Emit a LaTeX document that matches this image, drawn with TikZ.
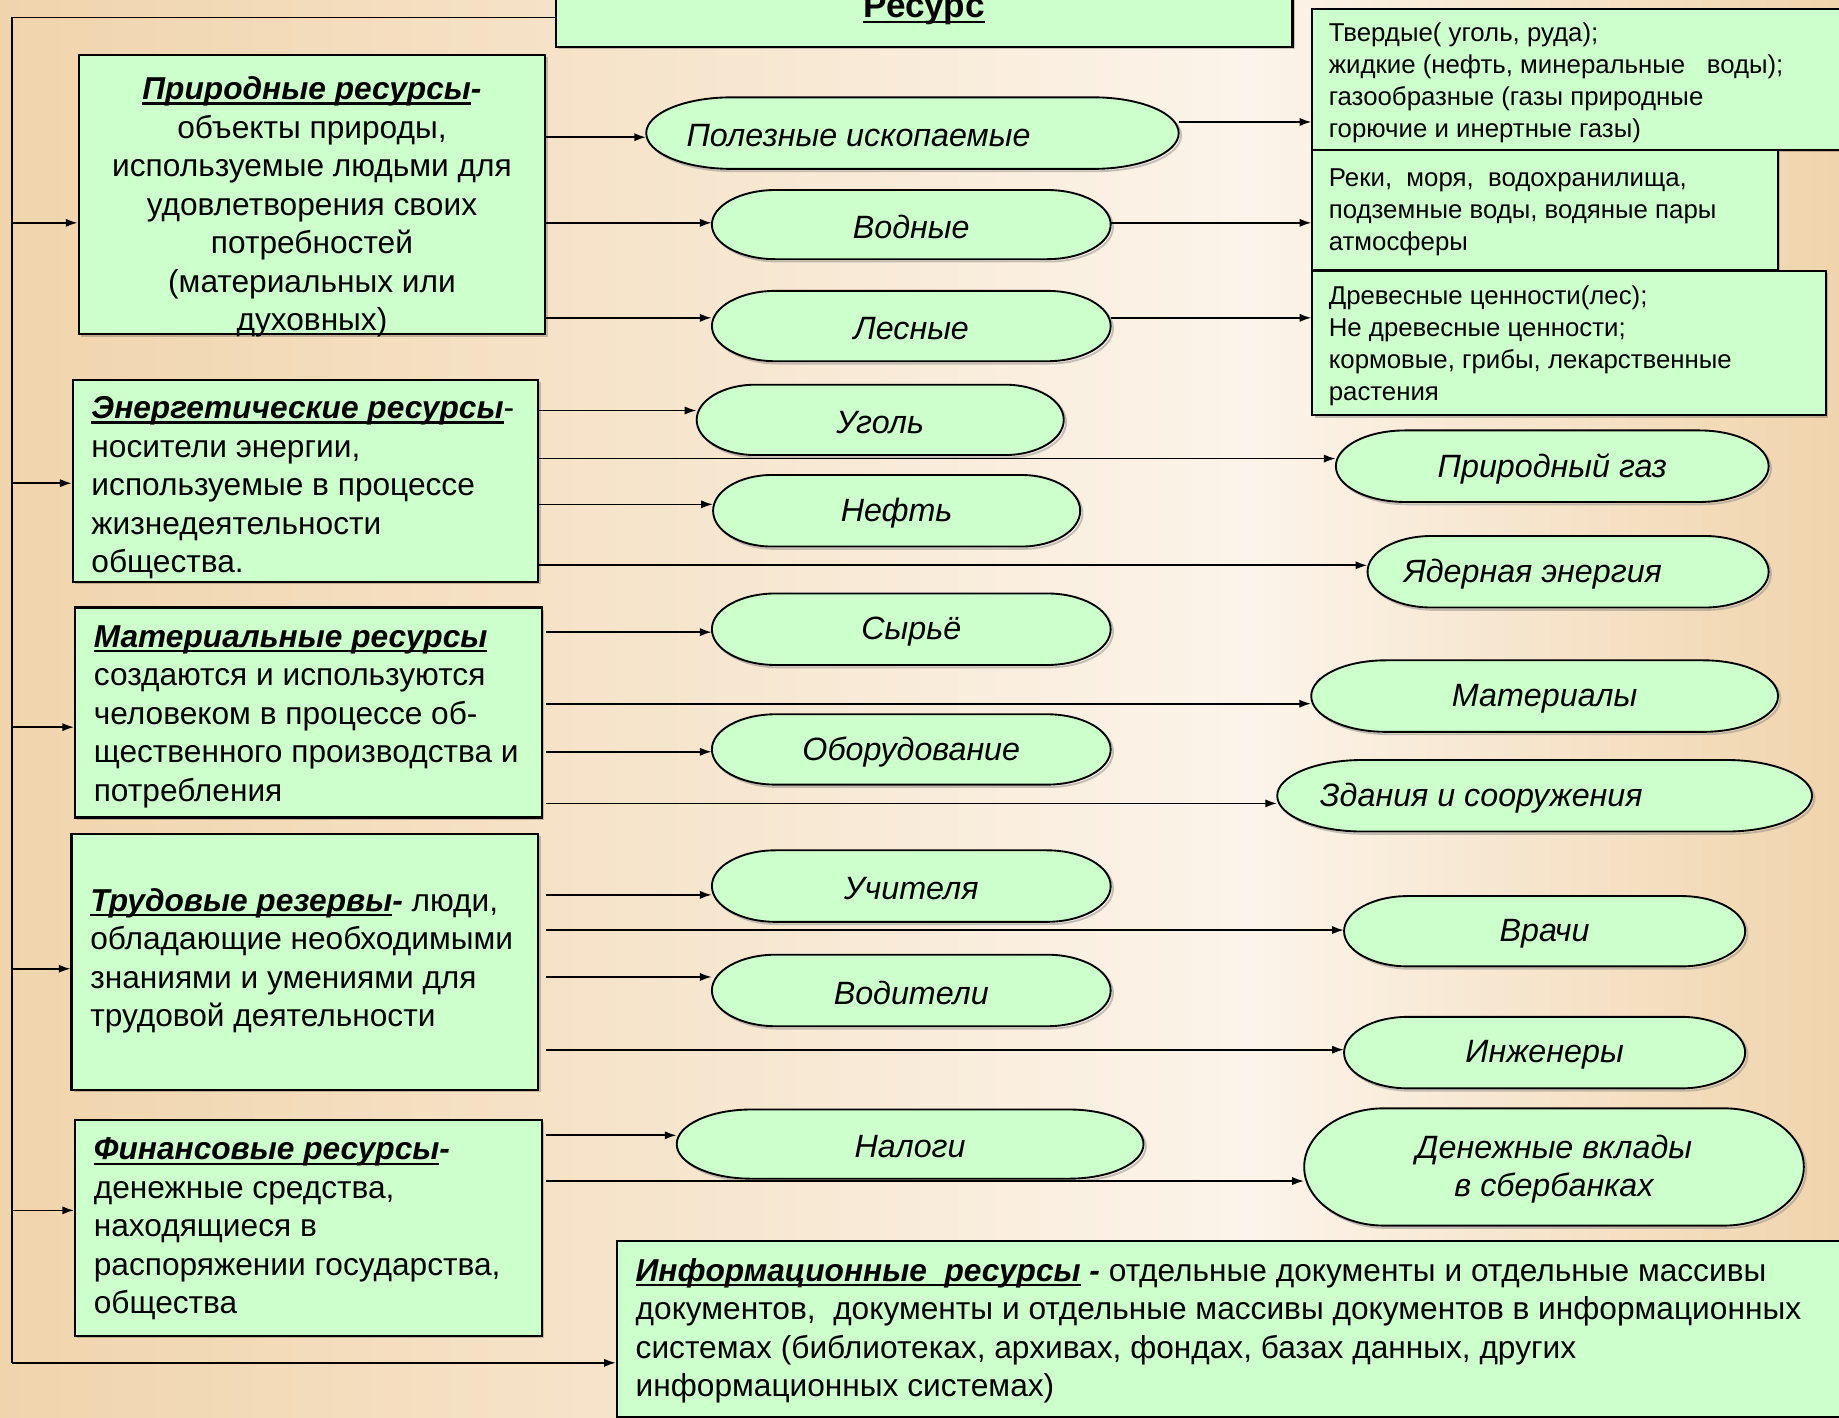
\documentclass[tikz,border=0pt]{standalone}
\usepackage{fontspec}
\setmainfont{Liberation Sans}
\usetikzlibrary{arrows.meta,shadows,calc}
\definecolor{tanc}{RGB}{240,212,172}
\definecolor{lightc}{RGB}{252,244,234}
\definecolor{boxg}{RGB}{204,255,204}
\pgfdeclarehorizontalshading{bgh}{100bp}{color(0bp)=(tanc); color(25bp)=(tanc); color(59bp)=(lightc); color(75bp)=(tanc); color(100bp)=(tanc)}
\newsavebox\ulbox
\newcommand\ulx[1]{\sbox\ulbox{#1}\rlap{\rule[-0.16em]{\wd\ulbox}{0.075em}}\usebox\ulbox}
% text width, box height, alignment, first-baseline offset, text
\newcommand\bt[5]{\parbox[c][#2pt][t]{#1pt}{#3\rule{0pt}{#4pt}#5}}
\tikzset{
  gbox/.style={draw=black, fill=boxg, line width=1.8pt, rectangle, inner sep=0pt,
    drop shadow={shadow xshift=2pt, shadow yshift=-2pt, opacity=0.2, fill=black}},
  bodyf/.style={font=\fontsize{27}{32.8}\selectfont},
  smallf/.style={font=\fontsize{22}{27.3}\selectfont},
  termpath/.style={draw=black, fill=boxg, line width=1.6pt},
  termshadow/.style={draw=black!45, line width=1.6pt, opacity=0.5},
  termtext/.style={draw=none, inner sep=0pt, font=\fontsize{27.5}{32}\selectfont\itshape, align=center},
  arr/.style={-{Latex[length=10pt,width=7pt]}, line width=1.4pt},
  trunkline/.style={line width=1.4pt}
}
% name, cx, cy, w, h, kern, text
\newcommand\term[7]{%
  \pgfmathsetmacro\trx{0.16*#4}\pgfmathsetmacro\thw{#4/2}\pgfmathsetmacro\thh{#5/2}%
  \path[termshadow] (#2-\thw+\trx+2,#3-\thh+2) -- (#2+\thw-\trx+2,#3-\thh+2)
     arc[start angle=90,end angle=-90,x radius=\trx pt,y radius=\thh pt]
     -- (#2-\thw+\trx+2,#3+\thh+2)
     arc[start angle=270,end angle=90,x radius=\trx pt,y radius=\thh pt] -- cycle;
  \path[termpath] (#2-\thw+\trx,#3-\thh) -- (#2+\thw-\trx,#3-\thh)
     arc[start angle=90,end angle=-90,x radius=\trx pt,y radius=\thh pt]
     -- (#2-\thw+\trx,#3+\thh)
     arc[start angle=270,end angle=90,x radius=\trx pt,y radius=\thh pt] -- cycle;
  \node[termtext, minimum width=#4pt, minimum height=#5pt] (#1) at (#2,#3+2) {\kern#6pt\relax #7};
}
% from, to, image-down offset of the line relative to the centre of "to", gap after "from"
\newcommand\conn[4][0pt]{\draw[arr] let \p1=(#2.east), \p2=(#3.west) in ({\x1+#1},{\y2-(#4)}) -- (\x2,{\y2-(#4)});}
\begin{document}
\begin{tikzpicture}[x=1pt,y=-1pt]
\useasboundingbox (0,0) rectangle (1568,1209);
\shade[shading=bgh] (0,0) rectangle (1568,1209);

% title
\node[gbox, minimum width=628pt, minimum height=64pt, font=\fontsize{30}{36}\selectfont\bfseries] (title) at (788,8) {\ulx{Ресурс}};

% left boxes
\node[gbox, bodyf, minimum width=398pt, minimum height=238pt] (nat) at (266,166)
 {\bt{370}{238}{\centering}{38}{{\bfseries\itshape\ulx{Природные ресурсы}-}\\объекты природы,\\используемые людьми для\\удовлетворения своих\\потребностей\\(материальных или\\духовных)}};
\node[gbox, bodyf, minimum width=397pt, minimum height=172pt] (en) at (260.5,410)
 {\bt{365}{172}{\raggedright}{33}{{\bfseries\itshape\ulx{Энергетические ресурсы}}-\\носители энергии,\\используемые в процессе\\жизнедеятельности\\общества.}};
\node[gbox, bodyf, minimum width=398pt, minimum height=179pt] (mat) at (263,607.5)
 {\bt{366}{179}{\raggedright}{34}{{\bfseries\itshape\ulx{Материальные ресурсы}}\\создаются и используются\\человеком в процессе об-\\щественного производства и\\потребления}};
\node[gbox, bodyf, minimum width=398pt, minimum height=218pt] (lab) at (260,820)
 {\bt{366}{218}{\raggedright}{66}{{\bfseries\itshape\ulx{Трудовые резервы}-} люди,\\обладающие необходимыми\\знаниями и умениями для\\трудовой деятельности}};
\node[gbox, bodyf, minimum width=398pt, minimum height=184pt] (fin) at (263,1047)
 {\bt{366}{184}{\raggedright}{34}{{\bfseries\itshape\ulx{Финансовые ресурсы}-}\\денежные средства,\\находящиеся в\\распоряжении государства,\\общества}};
\node[gbox, bodyf, minimum width=1064pt, minimum height=150pt] (info) at (1058,1133)
 {\bt{1032}{150}{\raggedright}{34.5}{{\bfseries\itshape\ulx{Информационные\ \ ресурсы} -} отдельные документы и отдельные массивы\\документов,\ \ документы и отдельные массивы документов в информационных\\системах (библиотеках, архивах, фондах, базах данных, других\\информационных системах)}};

% right description boxes
\node[gbox, smallf, minimum width=471pt, minimum height=120pt] (bA) at (1354.5,68)
 {\bt{443}{120}{\raggedright}{27}{Твердые( уголь, руда);\\жидкие (нефть, минеральные\ \ \ воды);\\газообразные (газы природные\\горючие и инертные газы)}};
\node[gbox, smallf, minimum width=397pt, minimum height=102pt] (bB) at (1317.5,179)
 {\bt{369}{102}{\raggedright}{31}{Реки,\ \ моря,\ \ водохранилища,\\подземные воды, водяные пары\\атмосферы}};
\node[gbox, smallf, minimum width=438pt, minimum height=123pt] (bC) at (1338,292.5)
 {\bt{410}{123}{\raggedright}{29}{Древесные ценности(лес);\\Не древесные ценности;\\кормовые, грибы, лекарственные\\растения}};

% terminators
\term{pi}{778}{113.5}{454}{61}{-92}{Полезные ископаемые}
\term{vod}{777}{191.5}{340}{59}{0}{Водные}
\term{les}{777}{278}{340}{60}{0}{Лесные}
\term{ug}{750.5}{358}{313}{60}{0}{Уголь}
\term{gaz}{1323.5}{397.5}{369}{61}{0}{Природный газ}
\term{nef}{764.5}{435.5}{313}{61}{0}{Нефть}
\term{yad}{1337}{487.5}{342}{61}{-60}{Ядерная энергия}
\term{syr}{777}{536.5}{340}{61}{0}{Сырьё}
\term{mtr}{1317}{593.5}{398}{61}{0}{Материалы}
\term{obo}{777}{639}{340}{60}{0}{Оборудование}
\term{zd}{1317}{678.5}{456}{61}{-108}{Здания и сооружения}
\term{uch}{777}{755.5}{340}{61}{0}{Учителя}
\term{vr}{1317}{794}{342}{60}{0}{Врачи}
\term{vodi}{777}{844.5}{340}{61}{0}{Водители}
\term{inzh}{1317}{897.5}{342}{61}{0}{Инженеры}
\term{nal}{776}{975.5}{398}{59}{0}{Налоги}
\term{den}{1325}{995}{426}{100}{0}{Денежные вклады\\в сбербанках}

% trunk
\coordinate (tl) at (10,15);
\coordinate (t1) at (10,190);
\coordinate (t2) at (10,412);
\coordinate (t3) at (10,620);
\coordinate (t4) at (10,826);
\coordinate (t5) at (10,1032);
\coordinate (bl) at (10,1162);
\draw[trunkline] ([yshift=-7pt]title.west) -- (tl) -- (bl);
\draw[arr] (t1) -- (nat.west |- t1);
\draw[arr] (t2) -- (en.west |- t2);
\draw[arr] (t3) -- (mat.west |- t3);
\draw[arr] (t4) -- (lab.west |- t4);
\draw[arr] (t5) -- (fin.west |- t5);
\draw[arr] (bl) -- (info.west |- bl);

% connectors
\conn{nat}{pi}{1.5pt}
\conn{nat}{vod}{-3.5pt}
\conn{nat}{les}{-9pt}
\conn{pi}{bA}{36pt}
\conn{vod}{bB}{11pt}
\conn{les}{bC}{-21.5pt}
\conn{en}{ug}{-10pt}
\conn{en}{gaz}{-8.5pt}
\conn{en}{nef}{-7.5pt}
\conn{en}{yad}{-7.5pt}
\conn[3pt]{mat}{syr}{0.5pt}
\conn[3pt]{mat}{mtr}{4.5pt}
\conn[3pt]{mat}{obo}{0pt}
\conn[3pt]{mat}{zd}{4.5pt}
\conn[6pt]{lab}{uch}{5.5pt}
\conn[6pt]{lab}{vr}{-3pt}
\conn[6pt]{lab}{vodi}{-13.5pt}
\conn[6pt]{lab}{inzh}{-4.5pt}
\conn[3pt]{fin}{nal}{-9.5pt}
\conn[3pt]{fin}{den}{10pt}
\end{tikzpicture}
\end{document}
